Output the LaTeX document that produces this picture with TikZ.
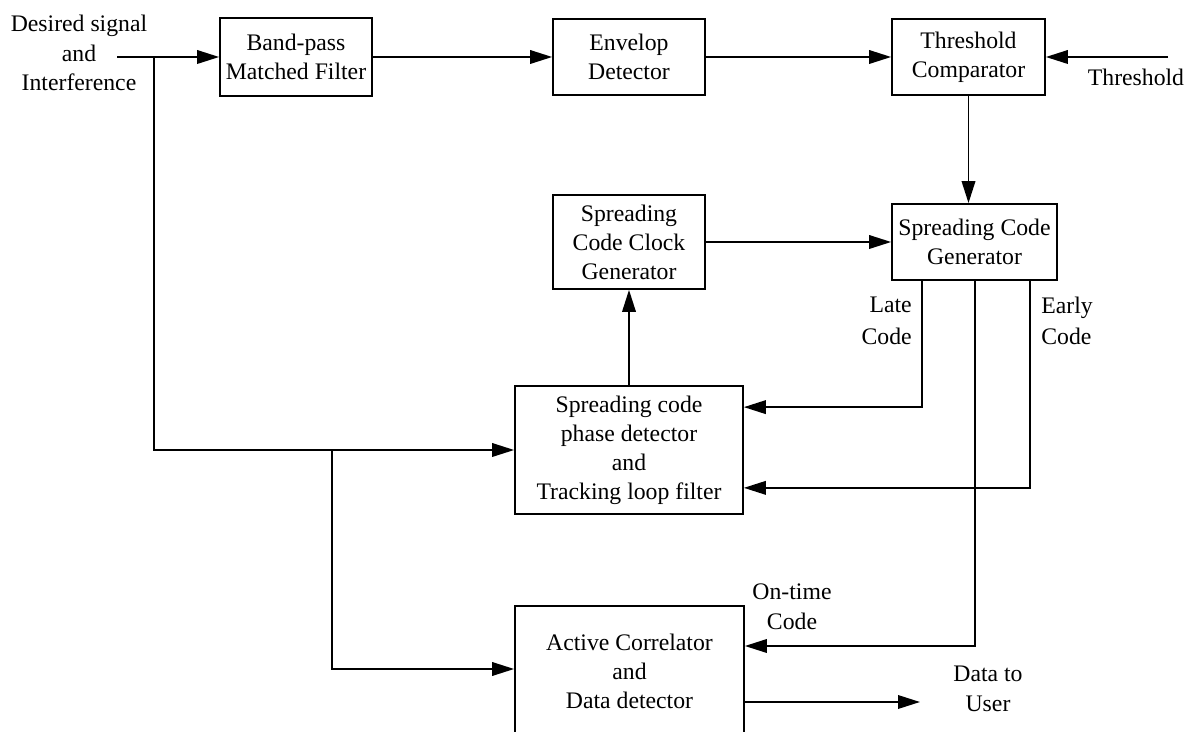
\documentclass[tikz,border=0pt]{standalone}
\usepackage{fontspec}
\setmainfont{Liberation Serif}
\usetikzlibrary{arrows.meta,calc}
\begin{document}
\begin{tikzpicture}[x=0.02cm,y=-0.02cm,
  blk/.style={draw,line width=1pt,inner sep=0pt,align=center,
    font=\fontsize{13.5}{16.5}\selectfont},
  lbl/.style={inner sep=0pt,font=\fontsize{13.5}{17}\selectfont},
  codelbl/.style={inner sep=0pt,font=\fontsize{13.5}{18}\selectfont},
  sig/.style={line width=1.1pt,-{Triangle[length=0.44cm,width=0.27cm]}},
  wire/.style={line width=1.1pt}]
\useasboundingbox (0,0) rectangle (1200,732);
\clip (0,0) rectangle (1200,732);

% blocks
\node[blk,minimum width=3.04cm,minimum height=1.56cm] (bpf) at (296,57) {Band-pass\\Matched Filter};
\node[blk,minimum width=3.04cm,minimum height=1.52cm] (env) at (629,57) {Envelop\\Detector};
\node[blk,minimum width=3.06cm,minimum height=1.52cm] (thr) at (968.5,57) {Threshold\\Comparator};
\node[blk,minimum width=3.30cm,minimum height=1.52cm] (scg) at (974.5,242) {Spreading Code\\Generator};
\node[blk,minimum width=3.04cm,minimum height=1.88cm] (clk) at (629,242) {Spreading\\Code Clock\\Generator};
\node[blk,minimum width=4.56cm,minimum height=2.56cm] (pd) at (629,450) {Spreading code\\phase detector\\and\\Tracking loop filter};
\node[blk,minimum width=4.58cm,minimum height=2.64cm,anchor=north] (ac) at (629.5,605) {Active Correlator\\and\\Data detector};

% labels
\node[lbl,align=center] (inlbl) at (79,53) {Desired signal\\and\\Interference};
\node[lbl] (thlbl) at (1136,77) {Threshold};
\node[codelbl,align=right,anchor=east] (latelbl) at (912,321) {Late\\Code};
\node[codelbl,align=left,anchor=west] (earlylbl) at (1041,321) {Early\\Code};
\node[lbl,align=center] (ontlbl) at (792,607) {On-time\\Code};
\node[lbl,align=center] (datalbl) at (988,689) {Data to\\User};

% free ends and branch points
\coordinate (src) at (117,57);
\coordinate (thin) at (1168,57);
\coordinate (j1) at (154,57);
\coordinate (j1b) at (j1 |- pd.west);
\coordinate (j2) at (332,450);
\coordinate (lateT) at ($(scg.south west)+(31,0)$);
\coordinate (ontT) at ($(scg.south west)+(84,0)$);
\coordinate (earlyT) at ($(scg.south west)+(139,0)$);
\coordinate (dout) at (920,702);

% top chain
\draw[sig] (src) -- (bpf.west);
\draw[sig] (bpf.east) -- (env.west);
\draw[sig] (env.east) -- (thr.west);
\draw[sig] (thin) -- (thr.east);
\draw[sig] (thr.south) -- (thr.south |- scg.north);

% clock loop
\draw[sig] (clk.east) -- (clk.east -| scg.west);
\draw[sig] (pd.north) -- (clk.south);
\draw[sig] (lateT) |- ($(pd.north east)+(0,22)$);
\draw[sig] (earlyT) |- ($(pd.south east)+(0,-27)$);
\draw[sig] (ontT) |- ($(ac.north east)+(0,41)$);

% received signal branches
\draw[sig] (j1) -- (j1b) -- (pd.west);
\draw[sig] (j2) |- ($(ac.north west)+(0,64)$);

% output
\draw[sig] (ac.east |- dout) -- (dout);
\end{tikzpicture}
\end{document}
